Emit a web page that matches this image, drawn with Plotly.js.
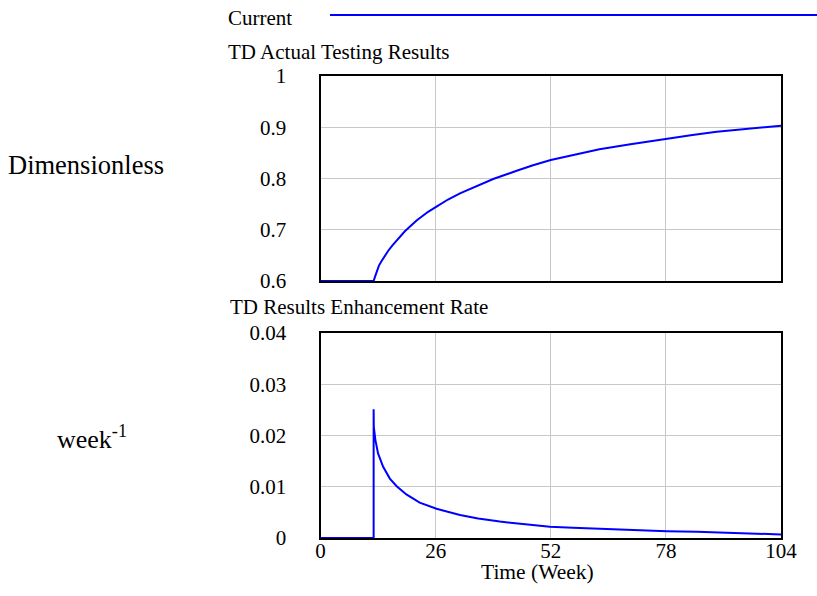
<!DOCTYPE html>
<html><head><meta charset="utf-8">
<script src="https://cdn.plot.ly/plotly-3.0.1.min.js"></script>
<style>html,body{margin:0;padding:0;background:#fff}#c{width:817px;height:596px}</style>
</head><body><div id="c"></div>
<script>
const seriesName = "Current";
const topTitle = "TD Actual Testing Results";
const bottomTitle = "TD Results Enhancement Rate";
const topUnit = "Dimensionless";
const bottomUnit = "week<sup>-1</sup>";
const xTitle = "Time (Week)";

const xTicks = [0, 26, 52, 78, 104];
const topYTicks = [0.6, 0.7, 0.8, 0.9, 1];
const topYTickText = ["0.6", "0.7", "0.8", "0.9", "1"];
const bottomYTicks = [0, 0.01, 0.02, 0.03, 0.04];
const bottomYTickText = ["0", "0.01", "0.02", "0.03", "0.04"];

const actualTime = [0, 12, 12.3, 12.65, 13.2, 13.8, 14.5, 15.3, 16.2, 17.2, 19.05, 21.7, 24.3, 26.2, 28.8, 31.5, 35.6, 39, 44.3, 48, 52, 58, 63, 70, 78, 84, 89.5, 96, 104];
const actualValue = [0.6, 0.6, 0.608, 0.618, 0.630, 0.639, 0.649, 0.659, 0.669, 0.679, 0.697, 0.718, 0.735, 0.745, 0.759, 0.771, 0.787, 0.799, 0.815, 0.826, 0.836, 0.848, 0.857, 0.867, 0.878, 0.885, 0.891, 0.897, 0.903];

const rateTime = [0, 12, 12, 12.04, 12.4, 13.0, 14.15, 15.66, 17.2, 19.4, 22.4, 26.2, 31.5, 35.6, 40.5, 46, 51.8, 57, 63.1, 70, 78.2, 85, 93.2, 100, 104];
const rateValue = [0, 0, 0.0251, 0.0217, 0.0191, 0.0165, 0.0139, 0.0116, 0.0101, 0.0085, 0.0069, 0.0057, 0.0045, 0.0038, 0.0032, 0.0027, 0.0022, 0.0020, 0.0018, 0.0015, 0.0013, 0.0012, 0.0010, 0.0009, 0.0007];

const F = "Times New Roman, Liberation Serif, serif";
const blue = "#0000ff";
const W = 817, H = 596;
const px = v => v / W, py = v => 1 - v / H;

const traces = [
  {x: actualTime, y: actualValue, xaxis: "x", yaxis: "y", mode: "lines", line: {color: blue, width: 2}, name: seriesName, showlegend: false, cliponaxis: false},
  {x: rateTime, y: rateValue, xaxis: "x2", yaxis: "y2", mode: "lines", line: {color: blue, width: 2}, name: seriesName, showlegend: false, cliponaxis: false}
];

const xd = [px(320.5), px(781)];
const tf = {family: F, size: 21, color: "#000"};
const axCommon = {showline: true, mirror: true, linecolor: "#000", linewidth: 2, gridcolor: "#c8c8c8", gridwidth: 1, zeroline: false, ticks: "", fixedrange: true, tickfont: tf, layer: "below traces"};

const layout = {
  width: W, height: H,
  margin: {l: 0, r: 0, t: 0, b: 0},
  paper_bgcolor: "#fff", plot_bgcolor: "#fff",
  font: {family: F, size: 21, color: "#000"},
  showlegend: false,
  xaxis: Object.assign({}, axCommon, {domain: xd, anchor: "y", range: [0, 104], tickvals: xTicks, showticklabels: false}),
  yaxis: Object.assign({}, axCommon, {domain: [py(281), py(76)], anchor: "x", range: [0.6, 1], tickvals: topYTicks, ticktext: topYTickText, ticklabelstandoff: 28}),
  xaxis2: Object.assign({}, axCommon, {domain: xd, anchor: "y2", range: [0, 104], tickvals: xTicks, ticktext: xTicks.map(String), ticklabelstandoff: -7}),
  yaxis2: Object.assign({}, axCommon, {domain: [py(538), py(333)], anchor: "x2", range: [0, 0.04], tickvals: bottomYTicks, ticktext: bottomYTickText, ticklabelstandoff: 28}),
  shapes: [
    {type: "line", xref: "paper", yref: "paper", x0: px(330), x1: px(817), y0: py(15), y1: py(15), line: {color: blue, width: 2}}
  ],
  annotations: [
    {text: seriesName, xref: "paper", yref: "paper", x: px(226), y: py(18), xanchor: "left", yanchor: "middle", showarrow: false, font: {family: F, size: 21}},
    {text: topTitle, xref: "paper", yref: "paper", x: px(226), y: py(52), xanchor: "left", yanchor: "middle", showarrow: false, font: {family: F, size: 21}},
    {text: bottomTitle, xref: "paper", yref: "paper", x: px(228), y: py(307), xanchor: "left", yanchor: "middle", showarrow: false, font: {family: F, size: 21}},
    {text: topUnit, xref: "paper", yref: "paper", x: px(6), y: py(165), xanchor: "left", yanchor: "middle", showarrow: false, font: {family: F, size: 26.5}},
    {text: bottomUnit, xref: "paper", yref: "paper", x: px(55), y: py(437), xanchor: "left", yanchor: "middle", showarrow: false, font: {family: F, size: 26}},
    {text: xTitle, xref: "paper", yref: "paper", x: px(537), y: py(572), xanchor: "center", yanchor: "middle", showarrow: false, font: {family: F, size: 21.5}}
  ]
};

Plotly.newPlot("c", traces, layout, {displayModeBar: false, staticPlot: true});
</script>
</body></html>
